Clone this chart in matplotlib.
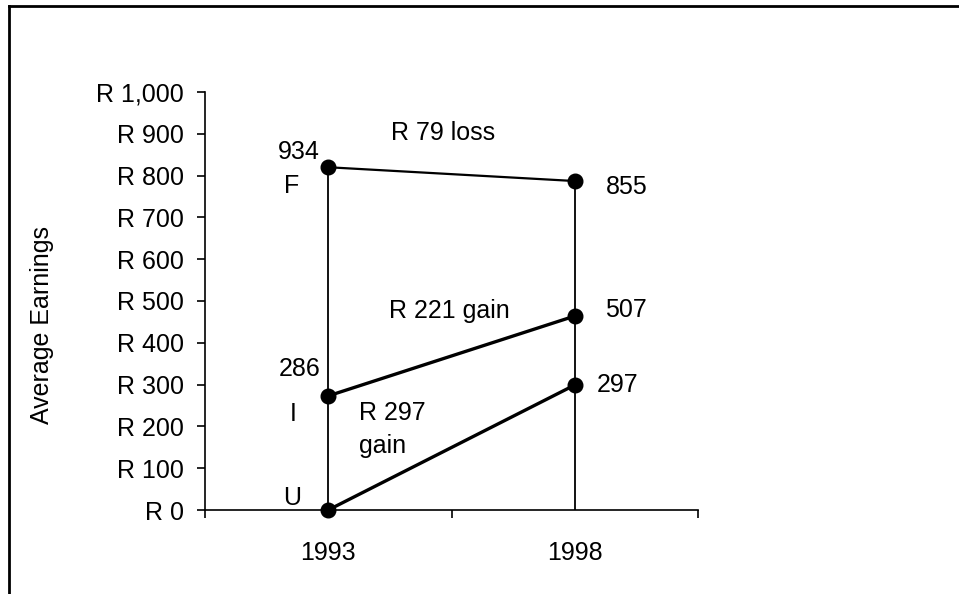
"""Average earnings 1993 vs 1998 by group (F, I, U), slope chart."""

import matplotlib

matplotlib.use("Agg")
import matplotlib.pyplot as plt
from matplotlib.lines import Line2D

plt.rcParams["font.family"] = ["Liberation Sans", "DejaVu Sans"]

YEARS = ["1993", "1998"]
# plotted positions as they sit on the chart
FORMAL = [820, 787]
INFORMAL = [273, 464]
UNEMPLOYED = [0, 299]
# printed value labels
FORMAL_LABELS = ["934", "855"]
INFORMAL_LABELS = ["286", "507"]
UNEMPLOYED_LABEL = "297"
Y_TICKS = list(range(0, 1001, 100))
Y_TICK_LABELS = [f"R {v:,}" for v in Y_TICKS]

FS = 18

fig = plt.figure(figsize=(9.59, 5.94), dpi=100)
ax = fig.add_axes([205 / 959, 1 - 510 / 594, 493 / 959, 418 / 594])

x = list(range(len(YEARS)))

# drop lines from the top series down to the axis
for xi, top in zip(x, FORMAL):
    ax.plot([xi, xi], [0, top], color="black", lw=1.3, zorder=1)

for series, lw in [(FORMAL, 1.6), (INFORMAL, 2.4), (UNEMPLOYED, 2.4)]:
    ax.plot(x, series, color="black", lw=lw, marker="o", ms=10.5,
            zorder=3, clip_on=False)

ax.set_xlim(-0.5, 1.5)
ax.set_ylim(0, 1000)
ax.set_yticks(Y_TICKS)
ax.set_yticklabels(Y_TICK_LABELS, fontsize=FS)
ax.set_xticks([-0.5, 0.5, 1.5])
ax.set_xticklabels([])
ax.set_xticks(x, minor=True)
ax.set_xticklabels(YEARS, minor=True, fontsize=FS)
ax.tick_params(axis="x", which="minor", length=0, pad=22)
ax.tick_params(axis="both", which="major", length=6, width=1.2, direction="out")
ax.tick_params(axis="y", pad=9)

for side in ["top", "right"]:
    ax.spines[side].set_visible(False)
for side in ["left", "bottom"]:
    ax.spines[side].set_linewidth(1.2)

# value and group labels
ax.text(-0.12, 856, FORMAL_LABELS[0], ha="center", va="center", fontsize=FS)
ax.text(-0.147, 775, "F", ha="center", va="center", fontsize=FS)
ax.text(1.21, 773, FORMAL_LABELS[1], ha="center", va="center", fontsize=FS)
ax.text(0.466, 902, "R 79 loss", ha="center", va="center", fontsize=FS)

ax.text(-0.115, 337, INFORMAL_LABELS[0], ha="center", va="center", fontsize=FS)
ax.text(-0.143, 230, "I", ha="center", va="center", fontsize=FS)
ax.text(1.208, 478, INFORMAL_LABELS[1], ha="center", va="center", fontsize=FS)
ax.text(0.49, 476, "R 221 gain", ha="center", va="center", fontsize=FS)

ax.text(-0.147, 29, "U", ha="center", va="center", fontsize=FS)
ax.text(1.175, 299, UNEMPLOYED_LABEL, ha="center", va="center", fontsize=FS)
ax.text(0.125, 232, "R 297", ha="left", va="center", fontsize=FS)
ax.text(0.125, 153, "gain", ha="left", va="center", fontsize=FS)

fig.text(42 / 959, 1 - 325 / 594, "Average Earnings", rotation=90,
         ha="center", va="center", fontsize=FS)

# outer frame (top and left edges only)
fig.add_artist(Line2D([9 / 959, 1.0], [1 - 6 / 594, 1 - 6 / 594],
                      transform=fig.transFigure, color="black", lw=2))
fig.add_artist(Line2D([9 / 959, 9 / 959], [0.0, 1 - 6 / 594],
                      transform=fig.transFigure, color="black", lw=2))

fig.savefig("out.png", dpi=100)
